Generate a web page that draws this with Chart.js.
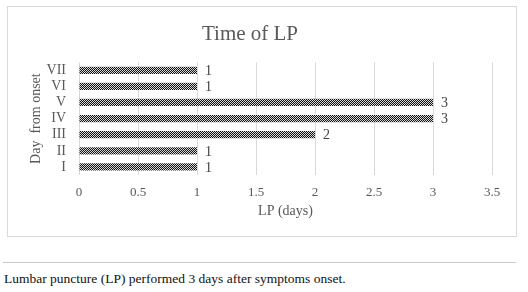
<!DOCTYPE html>
<html lang="en">
  <head>
    <meta charset="utf-8" />
    <title>Time of LP</title>
    <style>
      * {
        margin: 0;
        padding: 0;
      }
      body {
        width: 528px;
        height: 292px;
        background: white;
        position: relative;
        font-family: "Liberation Serif", serif;
      }
      .chartBox {
        position: absolute;
        left: 7px;
        top: 6px;
        width: 508px;
        height: 229px;
        border: 1px solid #d9d9d9;
      }
      .rule {
        position: absolute;
        left: 3px;
        top: 262px;
        width: 513px;
        border-top: 1px solid #c8c8c8;
      }
      .caption {
        position: absolute;
        left: 4px;
        top: 271px;
        font-size: 13.5px;
        color: #111;
      }
    </style>
  </head>
  <body>
    <div class="chartBox">
      <canvas id="myChart" width="508" height="229"></canvas>
    </div>
    <div class="rule"></div>
    <p class="caption">Lumbar puncture (LP) performed 3 days after symptoms onset.</p>

    <script src="https://cdn.jsdelivr.net/npm/chart.js@4.4.0/dist/chart.umd.min.js"></script>

    <script>
      // data block
      const days = ["I", "II", "III", "IV", "V", "VI", "VII"];
      const lpValues = [1, 1, 2, 3, 3, 1, 1];
      const xTicks = [0, 0.5, 1, 1.5, 2, 2.5, 3, 3.5];

      const serif = "'Liberation Serif', 'Times New Roman', serif";

      // checkered fill like the original
      function makePattern() {
        const c = document.createElement("canvas");
        c.width = 2;
        c.height = 2;
        const p = c.getContext("2d");
        p.fillStyle = "#d8d8d8";
        p.fillRect(0, 0, 2, 2);
        p.fillStyle = "#111111";
        p.fillRect(0, 0, 1, 1);
        p.fillRect(1, 1, 1, 1);
        return p.createPattern(c, "repeat");
      }

      // value labels block
      const valueLabels = {
        id: "valueLabels",
        afterDatasetsDraw(chart) {
          const { ctx } = chart;
          const meta = chart.getDatasetMeta(0);
          ctx.save();
          ctx.font = "14px " + serif;
          ctx.fillStyle = "#404040";
          ctx.textAlign = "left";
          ctx.textBaseline = "middle";
          meta.data.forEach((bar, i) => {
            ctx.fillText(String(lpValues[i]), bar.x + 8, bar.y + 1);
          });
          ctx.restore();
        },
      };

      const config = {
        type: "bar",
        data: {
          labels: days,
          datasets: [
            {
              label: "LP",
              data: lpValues,
              backgroundColor: makePattern(),
              borderWidth: 0,
              categoryPercentage: 1,
              barPercentage: 0.45,
            },
          ],
        },
        options: {
          indexAxis: "y",
          responsive: false,
          animation: false,
          layout: {
            padding: { left: 0, right: 24, top: 0, bottom: 16 },
          },
          plugins: {
            legend: { display: false },
            tooltip: { enabled: false },
            title: {
              display: true,
              text: "Time of LP",
              color: "#595959",
              font: { family: serif, size: 21, weight: "normal" },
              padding: { top: 15, bottom: 15 },
            },
          },
          scales: {
            x: {
              min: 0,
              max: 3.5,
              afterBuildTicks(axis) {
                axis.ticks = xTicks.map((v) => ({ value: v }));
              },
              afterFit(axis) {
                axis.height = 45;
              },
              grid: { color: "#d9d9d9", drawTicks: false },
              border: { display: false },
              ticks: {
                color: "#595959",
                padding: 10,
                font: { family: serif, size: 13 },
                callback: (v) => String(v),
              },
              title: {
                display: true,
                text: "LP (days)",
                color: "#595959",
                font: { family: serif, size: 14 },
                padding: { top: 4, bottom: 0 },
              },
            },
            y: {
              reverse: true,
              afterFit(axis) {
                axis.width = 71;
              },
              grid: { display: false },
              border: { display: false },
              ticks: {
                autoSkip: false,
                color: "#595959",
                padding: 5,
                font: { family: serif, size: 14 },
              },
              title: {
                display: true,
                text: "Day  from onset",
                color: "#595959",
                font: { family: serif, size: 14 },
                padding: { top: 20, bottom: 2 },
              },
            },
          },
        },
        plugins: [valueLabels],
      };

      const myChart = new Chart(document.getElementById("myChart"), config);
    </script>
  </body>
</html>
